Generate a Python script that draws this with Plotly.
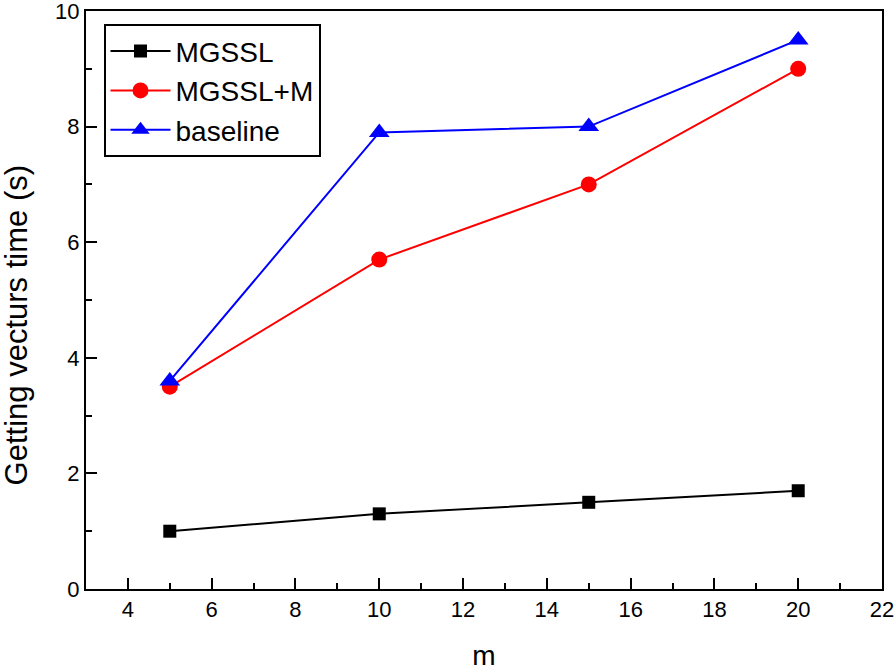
import plotly.graph_objects as go

m_values = [5, 10, 15, 20]
mgssl = [1.0, 1.3, 1.5, 1.7]
mgssl_m = [3.5, 5.7, 7.0, 9.0]
baseline = [3.6, 7.9, 8.0, 9.5]

FONT = "Liberation Sans, Arial"

fig = go.Figure()
fig.add_trace(go.Scatter(x=m_values, y=mgssl, name="MGSSL", mode="lines+markers",
                         line=dict(color="black", width=2),
                         marker=dict(symbol="square", size=13, color="black")))
fig.add_trace(go.Scatter(x=m_values, y=mgssl_m, name="MGSSL+M", mode="lines+markers",
                         line=dict(color="red", width=2),
                         marker=dict(symbol="circle", size=16, color="red")))
fig.add_trace(go.Scatter(x=m_values, y=baseline, name="baseline", mode="lines+markers",
                         line=dict(color="blue", width=2),
                         marker=dict(symbol="triangle-up", size=18, color="blue")))

axis_common = dict(showline=True, linecolor="black", linewidth=2, mirror=True,
                   ticks="inside", ticklen=11, tickwidth=2, tickcolor="black",
                   showgrid=False, zeroline=False, automargin=False,
                   ticklabeloverflow="allow",
                   tickfont=dict(family=FONT, size=22, color="black"))

fig.update_xaxes(range=[3, 22], dtick=2, tick0=0,
                 minor=dict(ticks="inside", ticklen=6, tickwidth=2, tickcolor="black", dtick=1, tick0=0),
                 title=dict(text="m", font=dict(family=FONT, size=28, color="black"), standoff=37),
                 **axis_common)
fig.update_yaxes(range=[0, 10], dtick=2, tick0=0,
                 minor=dict(ticks="inside", ticklen=6, tickwidth=2, tickcolor="black", dtick=1, tick0=0),
                 **axis_common)

fig.add_annotation(text="Getting vecturs time (s)", textangle=-90,
                   xref="paper", yref="paper", x=-0.088, y=0.456,
                   xanchor="center", yanchor="middle", showarrow=False,
                   font=dict(family=FONT, size=31, color="black"))

fig.update_layout(
    width=895, height=671,
    margin=dict(l=86, r=13, t=11, b=82),
    plot_bgcolor="white", paper_bgcolor="white",
    font=dict(family=FONT, color="black"),
    legend=dict(x=0.022, y=0.977, xanchor="left", yanchor="top",
                bordercolor="black", borderwidth=2, bgcolor="white",
                font=dict(family=FONT, size=28, color="black"),
                itemwidth=60, tracegroupgap=0),
    showlegend=True,
)

fig.write_html("out.html", config={"displayModeBar": False},
               post_script="document.body.style.margin='0px';")
